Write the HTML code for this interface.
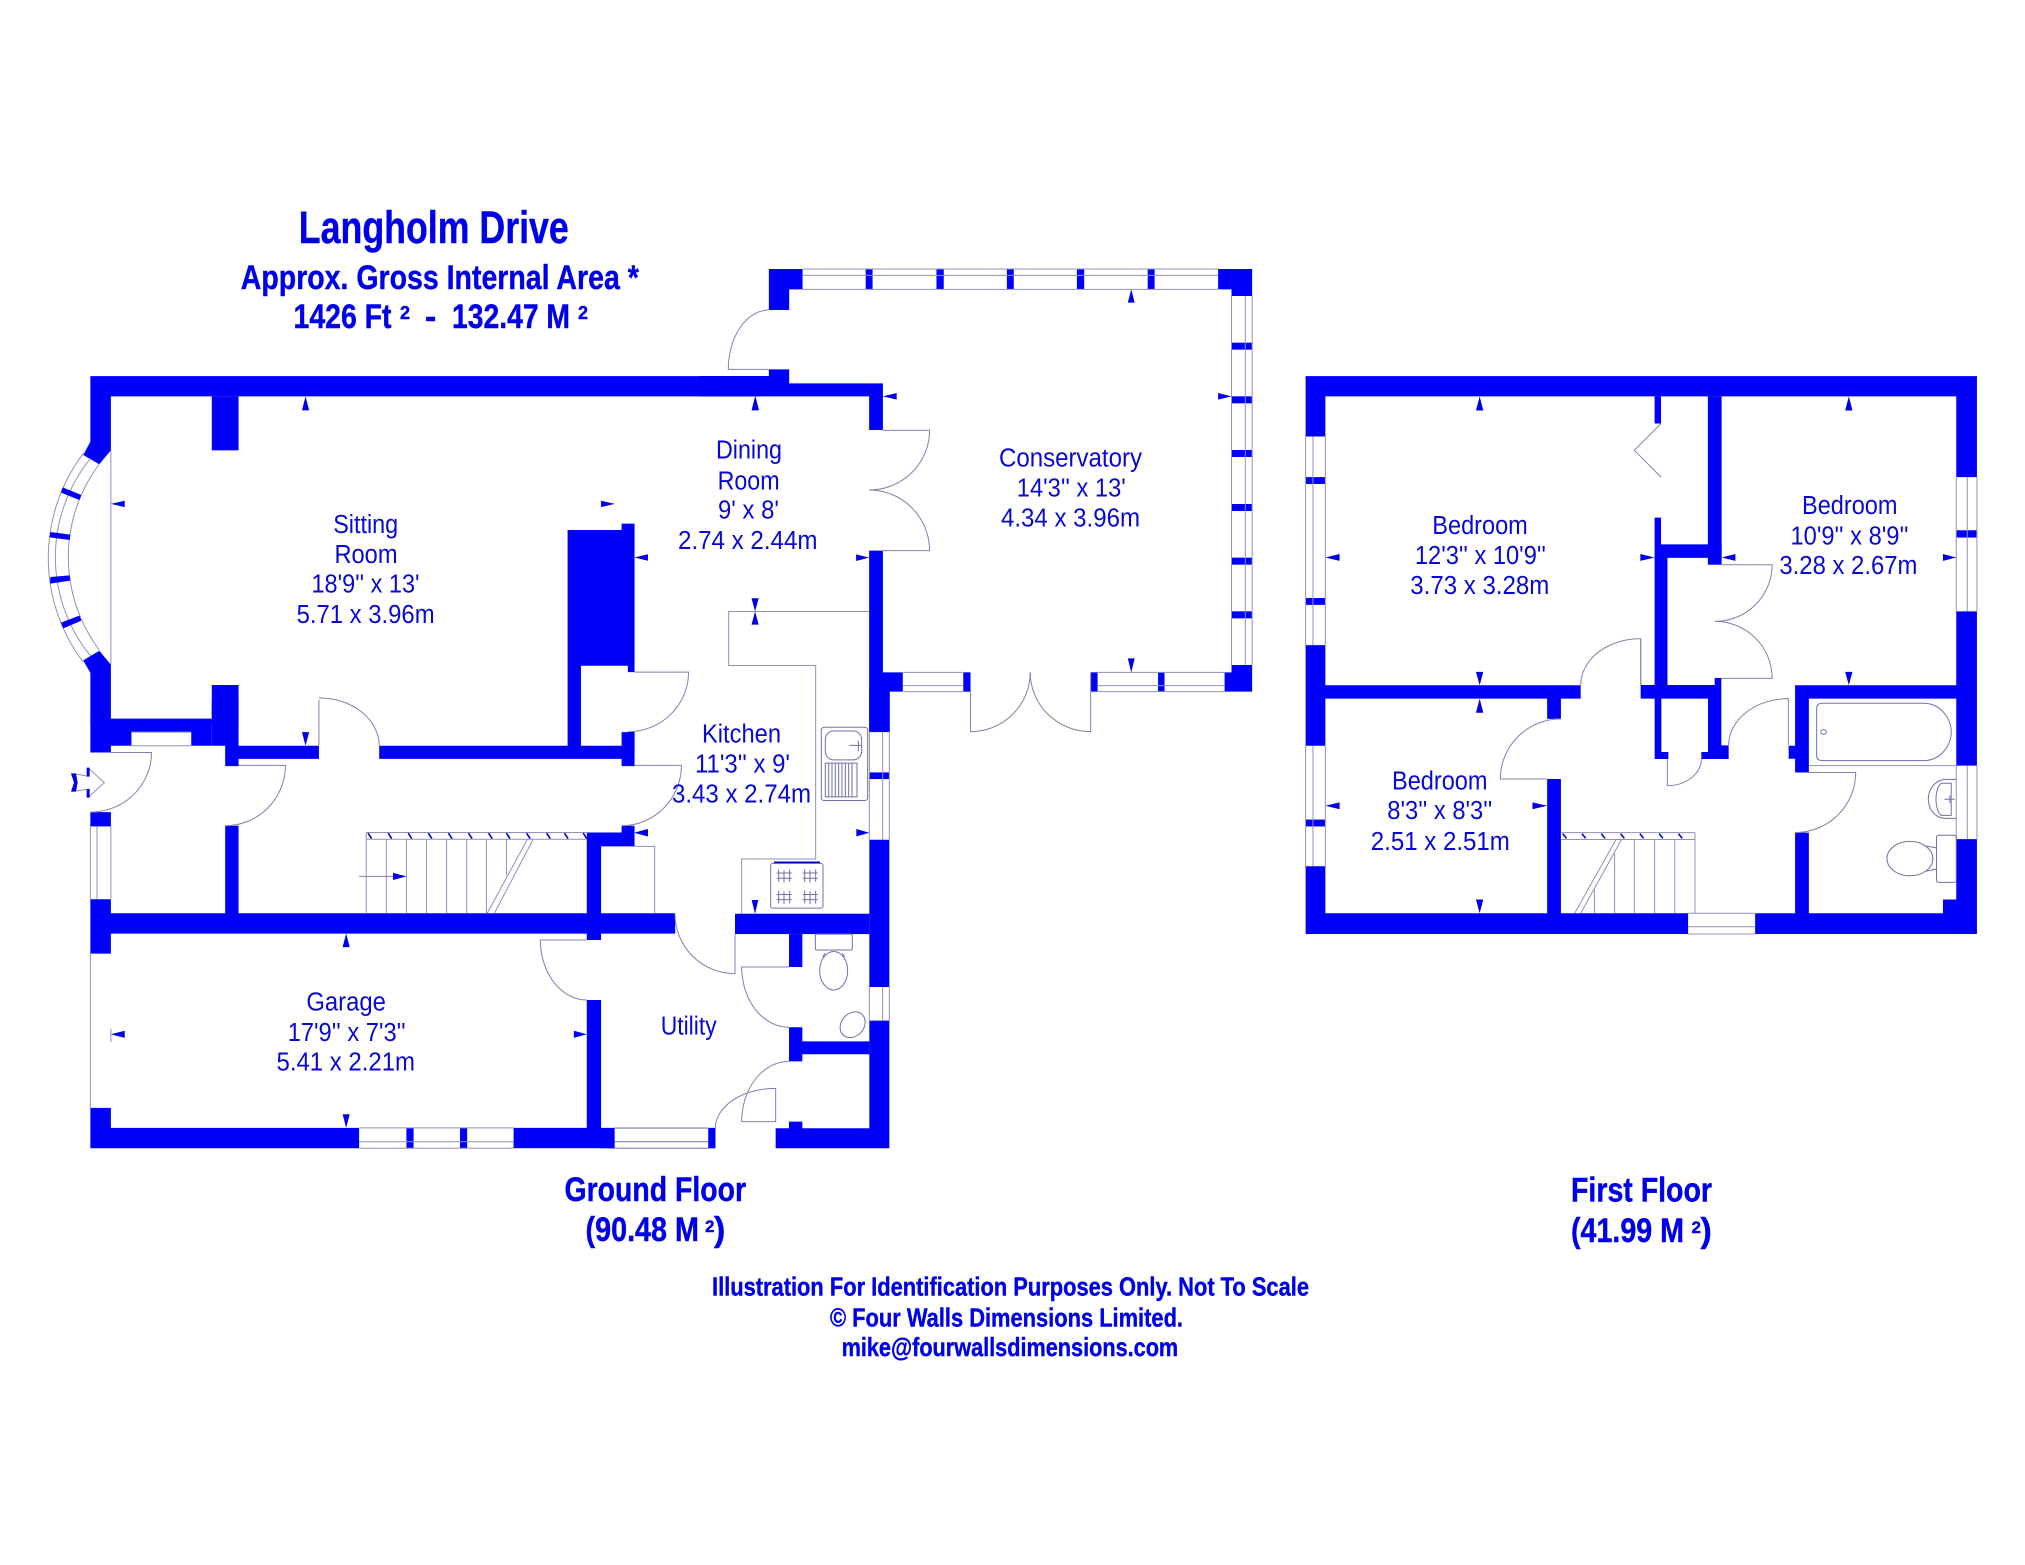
<!DOCTYPE html>
<html><head><meta charset="utf-8"><title>Langholm Drive floor plan</title>
<style>
html,body{margin:0;padding:0;background:#fff}
svg{display:block}
.w{fill:#0000fa}
.a{fill:#0000e6}
.l{fill:none;stroke:#9090bc;stroke-width:1;vector-effect:non-scaling-stroke}
.d{fill:none;stroke:#8080ac;stroke-width:1;vector-effect:non-scaling-stroke}
.h{fill:none;stroke:#0000c8;stroke-width:1.6;vector-effect:non-scaling-stroke}
.f{fill:none;stroke:#7070a8;stroke-width:1;vector-effect:non-scaling-stroke}
text{font-family:"Liberation Sans",Arial,sans-serif}
.t{font-size:25.5px;fill:#0808d2}
.b{font-weight:bold;fill:#0000e8;stroke:#0000e8;stroke-width:.4}
</style></head><body>
<svg xmlns="http://www.w3.org/2000/svg" width="2025" height="1565" viewBox="0 0 2025 1565">
<rect width="2025" height="1565" fill="#fff"/>

<!-- Z1 west ground upper -->
<g transform="translate(60,180) scale(.44643,.35714)">
<path class="w" d="M68,549H1568V606H114V757L88,796L52,770L68,733Z"/>
<rect class="w" x="340" y="606" width="60" height="151"/>
<path class="w" d="M52,1345L88,1318L114,1357V1510H340V1414H400V1520H68V1380Z"/>
<path class="w" d="M1137,980H1258V962H1287V1378H1272V1360H1167V1600H1137Z"/>
<rect class="w" x="1272" y="1545" width="15" height="60"/>
<path class="l" d="M114,757V1357"/>
<path class="d" d="M1287,1378H1408A136,167 0 0 1 1272,1545"/>
<path class="d" d="M580,1456V1584M580,1450A135,134 0 0 1 715,1584"/>
<path class="a" d="M550,606l8,39h-16zM1557,606l8,39h-16zM114,907l31,-9v18zM1243,907l-31,-9v18zM1287,1057l30,-9v18zM1557,1208l-8,-37h16zM1557,1208l8,37h-16z"/>
</g>

<!-- Bay window -->
<g transform="translate(40,430) scale(.33333)">
<path class="l" d="M130,70A520,520 0 0 0 130,697M152,85A468,468 0 0 0 152,678M178,102A465,465 0 0 0 178,660"/>
<path class="w" d="M68,172L124,195L118,210L63,188ZM31,306L91,314L89,330L29,322ZM31,441L89,436L91,452L30,461ZM63,578L118,557L124,572L70,595Z"/>
</g>

<!-- Z2 west ground lower -->
<g transform="translate(60,700) scale(.44643,.35714)">
<path class="w" d="M68,52H340V128H294V90H160V128H114V147H68Z"/>
<path class="w" d="M340,0H400V128H580V165H400V185H370V128H340Z"/>
<path class="w" d="M715,128H1258V90H1287V185H1258V165H715Z"/>
<rect class="w" x="68" y="314" width="46" height="40"/>
<path class="w" d="M68,558H114V597H370V352H400V597H1180V371H1258V352H1287V410H1212V597H1378V654H1212V672H1180V654H114V710H68Z"/>
<rect class="w" x="1180" y="840" width="32" height="360"/>
<path class="w" d="M68,1142H114V1198H670V1255H68Z"/>
<rect class="w" x="776" y="1198" width="16" height="57"/>
<rect class="w" x="896" y="1198" width="16" height="57"/>
<rect class="w" x="1016" y="1198" width="226" height="57"/>
<rect class="w" x="1452" y="1198" width="16" height="57"/>
<path class="l" d="M670,1198H1016M670,1237H1016M670,1255H1016M1242,1198H1452M1242,1237H1452M1242,1255H1452"/>
<path class="l" d="M68,354V558M83,354V558M114,354V558M68,710V1142M114,920V958"/>
<path class="l" d="M160,90H294M160,128H294"/>
<path class="d" d="M114,147H205A137,167 0 0 1 68,314"/>
<path class="d" d="M400,183H505A135,169 0 0 1 370,352"/>
<path class="d" d="M1287,183H1392A134,169 0 0 1 1258,352"/>
<path class="d" d="M1180,672H1076A104,168 0 0 0 1180,840"/>
<path class="l" d="M686,371H1180M686,390H1180M686,371V597M731,390V597M776,390V597M821,390V597M866,390V597M911,390V597M955,390V597M1000,390V490M1047,390L957,597M1060,390L973,597M1287,410H1332V597"/>
<path class="h" d="M690,373l8,15M735,373l8,15M780,373l8,15M825,373l8,15M870,373l8,15M915,373l8,15M960,373l8,15M1000,373l8,15M1045,373l8,15M1090,373l8,15M1130,373l8,15M1172,373l8,15"/>
<path class="d" d="M670,494H746"/>
<path class="a" d="M776,494l-30,-10v20zM641,654l8,38h-16zM114,936l31,-10v20zM1180,936l-29,-10v20zM641,1198l-8,-38h16zM1287,372l30,-10v20zM550,128l-8,-38h16z"/>
</g>

<!-- Entry arrow -->
<g transform="translate(50,690) scale(.33333)">
<path class="a" d="M63,250H78L83,278L78,305H63L72,278ZM110,233H119V260H110ZM110,297H119V323H110Z"/>
<path class="l" d="M78,252L110,258M78,303L110,298M119,238L163,278L119,318"/>
</g>

<!-- Z3 conservatory -->
<g transform="translate(700,240) scale(.38265,.33333)">
<path class="w" d="M180,87H268V148H233V210H180Z"/>
<path class="w" d="M1354,87H1443V168H1389V148H1354Z"/>
<path class="w" d="M1389,1275H1443V1355H1371V1297H1389Z"/>
<path class="w" d="M0,408H180V388H233V430H478V570H442V469H0Z"/>
<path class="w" d="M442,932H478V1297H530V1355H496V1475H442Z"/>
<rect class="w" x="433" y="87" width="18" height="61"/><rect class="w" x="618" y="87" width="19" height="61"/><rect class="w" x="802" y="87" width="18" height="61"/><rect class="w" x="985" y="87" width="19" height="61"/><rect class="w" x="1170" y="87" width="18" height="61"/>
<path class="l" d="M268,87H1354M268,106H1354M268,148H1354"/>
<rect class="w" x="1389" y="308" width="54" height="21"/><rect class="w" x="1389" y="469" width="54" height="21"/><rect class="w" x="1389" y="630" width="54" height="21"/><rect class="w" x="1389" y="792" width="54" height="21"/><rect class="w" x="1389" y="953" width="54" height="21"/><rect class="w" x="1389" y="1114" width="54" height="21"/>
<path class="l" d="M1389,168V1275M1425,168V1275M1443,168V1275"/>
<rect class="w" x="688" y="1297" width="18" height="58"/><rect class="w" x="1021" y="1297" width="18" height="58"/><rect class="w" x="1197" y="1297" width="17" height="58"/>
<path class="l" d="M530,1297H688M530,1337H688M530,1355H688M1039,1297H1371M1039,1337H1371M1039,1355H1371"/>
<path class="d" d="M180,210A106,178 0 0 0 74,388H180"/>
<path class="d" d="M478,571H600A158,179 0 0 1 442,750"/>
<path class="d" d="M442,750A158,182 0 0 1 600,932H478"/>
<path class="d" d="M707,1297V1475A156,178 0 0 0 863,1297"/>
<path class="d" d="M863,1297A158,178 0 0 0 1021,1475V1297"/>
<path class="a" d="M145,469l9,41h-18zM478,469l36,-10v20zM1127,148l9,40h-18zM1389,469l-35,-10v20zM442,953l-34,-10v20zM1127,1297l-9,-42h18z"/>
</g>

<!-- Z4 kitchen / utility -->
<g transform="translate(600,600) scale(.33333,.36996)">
<path class="w" d="M808,248H868V357H808ZM808,648H868V1046H808ZM808,1137H868V1482H527V1428H567V1410H607V1428H808Z"/>
<rect class="w" x="808" y="466" width="60" height="18"/>
<rect class="w" x="405" y="848" width="403" height="55"/>
<rect class="w" x="567" y="903" width="40" height="89"/>
<path class="w" d="M567,1155H607V1193H808V1228H607V1247H567Z"/>
<rect class="w" x="0" y="1428" width="44" height="54"/>
<rect class="w" x="326" y="1428" width="20" height="54"/>
<path class="l" d="M808,357V648M848,357V648M868,357V648M808,1046V1137M848,1046V1137M868,1046V1137M44,1428H326M44,1464H326M44,1482H326"/>
<path class="d" d="M225,848A180,162 0 0 0 405,1010V903"/>
<path class="d" d="M567,992H425A142,163 0 0 0 567,1155"/>
<path class="d" d="M567,1247A142,163 0 0 0 425,1410H527V1320A181,108 0 0 0 346,1428"/>
<path class="l" d="M808,31H386V177H647V700H425V848"/>
<rect class="f" x="664" y="344" width="139" height="198" rx="8"/>
<rect class="f" x="676" y="354" width="109" height="78" rx="24"/>
<rect class="f" x="676" y="441" width="95" height="91"/>
<path class="f" d="M686,441V532M696,441V532M706,441V532M716,441V532M726,441V532M736,441V532M746,441V532M756,441V532M748,393H785M775,380V408"/>
<rect class="f" x="512" y="712" width="157" height="121" rx="6"/>
<path class="h" d="M522,709H660"/>
<path class="f" d="M530,738H575M530,752H575M536,728V762M569,728V762M552,730V764M608,738H653M608,752H653M614,728V762M647,728V762M630,730V764M530,796H575M530,810H575M536,786V820M569,786V820M552,788V822M608,796H653M608,810H653M614,786V820M647,786V820M630,788V822"/>
<rect class="f" x="646" y="903" width="111" height="43" rx="4"/>
<ellipse class="f" cx="701" cy="1002" rx="42" ry="52"/>
<path class="f" d="M675,955L668,965M727,955L734,965"/>
<ellipse class="f" cx="758" cy="1148" rx="40" ry="32" transform="rotate(-35 758 1148)"/>
<path class="a" d="M808,629l-39,-10v20zM465,848l-10,-37h20zM103,629l40,-10v20z"/>
</g>

<!-- Z5 first floor -->
<g transform="translate(1290,360) scale(.45918,.38265)">
<path class="w" d="M34,42H1496V306H1451V95H77V200H34Z"/>
<path class="w" d="M34,745H77V850H633V885H590V938H560V885H77V1008H34Z"/>
<path class="w" d="M34,1323H77V1446H560V1095H590V1446H867V1500H34Z"/>
<path class="w" d="M1013,1446H1100V1235H1130V1446H1422V1410H1451V1252H1496V1500H1013Z"/>
<path class="w" d="M1451,657H1496V1060H1451V885H1130V1078H1100V1042H1086V1008H1100V850H1451Z"/>
<rect class="w" x="34" y="306" width="43" height="18"/><rect class="w" x="34" y="622" width="43" height="18"/><rect class="w" x="34" y="1201" width="43" height="18"/><rect class="w" x="1451" y="445" width="45" height="19"/>
<rect class="w" x="910" y="95" width="30" height="440"/>
<rect class="w" x="794" y="95" width="14" height="71"/>
<path class="w" d="M794,412H808V482H940V517H822V850H794Z"/>
<path class="l" d="M34,200V745M50,200V745M77,200V745M34,1008V1323M50,1008V1323M77,1008V1323M1451,306V657M1475,306V657M1496,306V657M1451,1060V1252M1475,1060V1252M1496,1060V1252M867,1446H1013M867,1481H1013M867,1500H1013"/>
<path class="d" d="M808,166L750,236L808,306"/>
<path class="d" d="M633,850A131,122 0 0 1 764,728V850"/>
<path class="d" d="M940,535H1050A124,148 0 0 1 926,683"/>
<path class="d" d="M926,683A124,149 0 0 1 1050,832H926"/>
<path class="d" d="M590,938A132,157 0 0 0 458,1095H560"/>
<path class="d" d="M1130,1078H1232A132,157 0 0 1 1100,1235"/>
<path class="f" d="M1147,910Q1147,897 1160,897H1380C1415,897 1440,935 1440,972C1440,1010 1415,1047 1380,1047H1160Q1147,1047 1147,1034Z"/>
<circle class="f" cx="1162" cy="972" r="6"/>
<path class="l" d="M1130,1060H1451"/>
<path class="f" d="M1451,1096H1425C1402,1100 1390,1125 1390,1147C1390,1170 1402,1195 1425,1198H1451M1418,1106H1440V1190H1418C1403,1175 1403,1122 1418,1106M1425,1148H1448M1437,1138V1158"/>
<rect class="f" x="1408" y="1242" width="43" height="123" rx="5"/>
<ellipse class="f" cx="1350" cy="1303" rx="50" ry="45"/>
<path class="f" d="M1385,1270L1408,1275M1385,1336L1408,1330"/>
<path class="l" d="M590,1235H882M590,1253H882M882,1235V1446M838,1253V1446M794,1253V1446M750,1253V1446M707,1290V1446M663,1380V1446M710,1253L620,1446M722,1253L633,1446"/>
<path class="h" d="M594,1238l8,12M636,1238l8,12M678,1238l8,12M720,1238l8,12M762,1238l8,12M804,1238l8,12M846,1238l8,12"/>
<path class="a" d="M413,95l8,37h-16zM77,516l31,-9v18zM794,516l-31,-9v18zM413,850l-8,-35h16zM413,885l8,37h-16zM77,1165l31,-9v18zM560,1165l-32,-9v18zM413,1446l-8,-36h16zM1217,95l8,37h-16zM940,516l30,-9v18zM1451,516l-29,-9v18zM1217,850l-8,-35h16z"/>
</g>

<!-- First floor core -->
<g transform="translate(1620,640) scale(.33333)">
<path class="w" d="M62,135H284V114H304V316H326V357H244V336H264V176H124V336H145V357H104V176H62Z"/>
<path class="d" d="M62,0V135"/>
<path class="d" d="M142,357V437A102,80 0 0 0 244,357"/>
<path class="d" d="M326,316A179,140 0 0 1 505,176V316"/>
</g>

<!-- Titles -->
<text class="b" x="298.8" y="243" font-size="45" textLength="270" lengthAdjust="spacingAndGlyphs">Langholm Drive</text>
<text class="b" x="240.8" y="289" font-size="34" textLength="398" lengthAdjust="spacingAndGlyphs">Approx. Gross Internal Area *</text>
<text class="b" x="293.5" y="328" font-size="34" textLength="98" lengthAdjust="spacingAndGlyphs">1426 Ft</text>
<text class="b" x="400" y="319" font-size="18">2</text>
<text class="b" x="425" y="328" font-size="34">-</text>
<text class="b" x="452" y="328" font-size="34" textLength="118" lengthAdjust="spacingAndGlyphs">132.47 M</text>
<text class="b" x="578" y="319" font-size="18">2</text>

<!-- Room labels -->
<g class="rooms">
<text class="t" x="333.2" y="533" textLength="65" lengthAdjust="spacingAndGlyphs">Sitting</text>
<text class="t" x="334.5" y="563" textLength="63" lengthAdjust="spacingAndGlyphs">Room</text>
<text class="t" x="311.5" y="592.5" textLength="108" lengthAdjust="spacingAndGlyphs">18'9'' x 13'</text>
<text class="t" x="296.6" y="623" textLength="138" lengthAdjust="spacingAndGlyphs">5.71 x 3.96m</text>

<text class="t" x="716" y="458.3" textLength="66" lengthAdjust="spacingAndGlyphs">Dining</text>
<text class="t" x="717.6" y="489.3" textLength="62" lengthAdjust="spacingAndGlyphs">Room</text>
<text class="t" x="718" y="518.3" textLength="61" lengthAdjust="spacingAndGlyphs">9' x 8'</text>
<text class="t" x="678" y="549" textLength="139.5" lengthAdjust="spacingAndGlyphs">2.74 x 2.44m</text>

<text class="t" x="999" y="466.7" textLength="143" lengthAdjust="spacingAndGlyphs">Conservatory</text>
<text class="t" x="1016.8" y="496.7" textLength="109" lengthAdjust="spacingAndGlyphs">14'3'' x 13'</text>
<text class="t" x="1001" y="526.7" textLength="139" lengthAdjust="spacingAndGlyphs">4.34 x 3.96m</text>

<text class="t" x="702" y="742.4" textLength="79" lengthAdjust="spacingAndGlyphs">Kitchen</text>
<text class="t" x="695" y="772.4" textLength="95" lengthAdjust="spacingAndGlyphs">11'3'' x 9'</text>
<text class="t" x="672" y="802.4" textLength="139" lengthAdjust="spacingAndGlyphs">3.43 x 2.74m</text>

<text class="t" x="660.7" y="1034.7" textLength="56" lengthAdjust="spacingAndGlyphs">Utility</text>

<text class="t" x="306.4" y="1010.7" textLength="79.5" lengthAdjust="spacingAndGlyphs">Garage</text>
<text class="t" x="287.7" y="1041" textLength="118" lengthAdjust="spacingAndGlyphs">17'9'' x 7'3''</text>
<text class="t" x="276.5" y="1070.7" textLength="138.5" lengthAdjust="spacingAndGlyphs">5.41 x 2.21m</text>

<text class="t" x="1432.3" y="534" textLength="95.5" lengthAdjust="spacingAndGlyphs">Bedroom</text>
<text class="t" x="1414.9" y="564" textLength="131" lengthAdjust="spacingAndGlyphs">12'3'' x 10'9''</text>
<text class="t" x="1410.3" y="594" textLength="139" lengthAdjust="spacingAndGlyphs">3.73 x 3.28m</text>

<text class="t" x="1802" y="514" textLength="95.5" lengthAdjust="spacingAndGlyphs">Bedroom</text>
<text class="t" x="1790.5" y="544.5" textLength="118" lengthAdjust="spacingAndGlyphs">10'9'' x 8'9''</text>
<text class="t" x="1779.4" y="574" textLength="138" lengthAdjust="spacingAndGlyphs">3.28 x 2.67m</text>

<text class="t" x="1392" y="789.4" textLength="95.5" lengthAdjust="spacingAndGlyphs">Bedroom</text>
<text class="t" x="1387.3" y="819" textLength="105" lengthAdjust="spacingAndGlyphs">8'3'' x 8'3''</text>
<text class="t" x="1370.8" y="850" textLength="139" lengthAdjust="spacingAndGlyphs">2.51 x 2.51m</text>
</g>

<!-- Floor captions -->
<text class="b" x="564.5" y="1201" font-size="34" textLength="181.5" lengthAdjust="spacingAndGlyphs">Ground Floor</text>
<text class="b" x="585.5" y="1241" font-size="34" textLength="113.5" lengthAdjust="spacingAndGlyphs">(90.48 M</text>
<text class="b" x="705" y="1232" font-size="17">2</text>
<text class="b" x="714" y="1241" font-size="34">)</text>
<text class="b" x="1571" y="1201.5" font-size="34" textLength="141" lengthAdjust="spacingAndGlyphs">First Floor</text>
<text class="b" x="1571" y="1242" font-size="34" textLength="113" lengthAdjust="spacingAndGlyphs">(41.99 M</text>
<text class="b" x="1691.5" y="1233" font-size="17">2</text>
<text class="b" x="1700.5" y="1242" font-size="34">)</text>

<text class="b" x="712" y="1295.7" font-size="26" textLength="597" lengthAdjust="spacingAndGlyphs">Illustration For Identification Purposes Only. Not To Scale</text>
<text class="b" x="830" y="1326.7" font-size="26" textLength="353" lengthAdjust="spacingAndGlyphs">© Four Walls Dimensions Limited.</text>
<text class="b" x="841.6" y="1356" font-size="26" textLength="336.6" lengthAdjust="spacingAndGlyphs">mike@fourwallsdimensions.com</text>
</svg>
</body></html>
